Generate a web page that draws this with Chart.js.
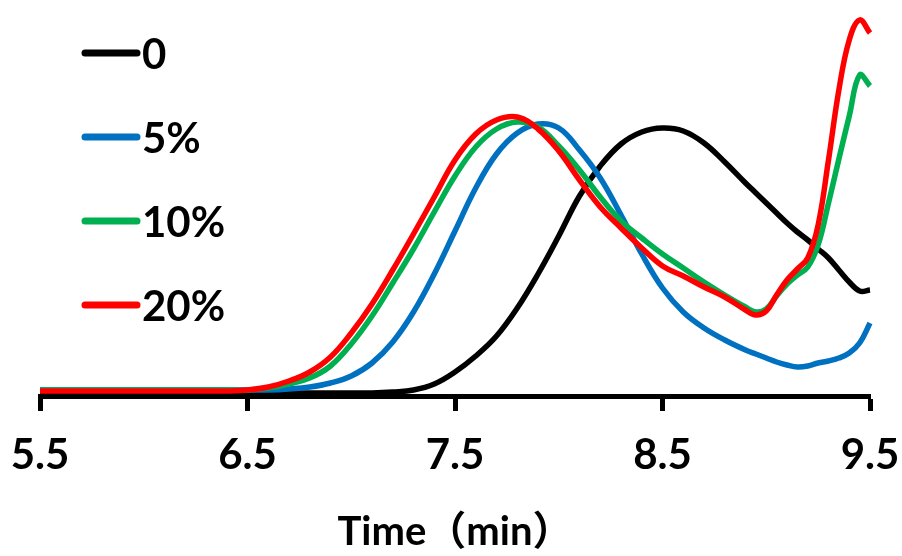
<!DOCTYPE html>
<html>
<head>
<meta charset="utf-8">
<script src="https://cdn.jsdelivr.net/npm/chart.js@4"></script>
<style>
  html, body { margin: 0; padding: 0; background: #fff; }
  #wrap { width: 902px; height: 556px; }
</style>
</head>
<body>
<div id="wrap"><canvas id="c" width="902" height="556"></canvas></div>
<script>
// Time axis (min)
const times = [5.5, 5.6, 5.7, 5.8, 5.9, 6.0, 6.1, 6.2, 6.3, 6.4,
  6.5, 6.6, 6.7, 6.8, 6.9, 7.0, 7.1, 7.2, 7.3, 7.4,
  7.5, 7.6, 7.7, 7.8, 7.9, 8.0, 8.1, 8.2, 8.3, 8.4,
  8.5, 8.6, 8.7, 8.8, 8.9, 8.95, 9.0, 9.05, 9.1, 9.15,
  9.2, 9.25, 9.3, 9.35, 9.4, 9.45, 9.5];

const seriesLabels = ['0', '5%', '10%', '20%'];
const seriesColors = ['#000000', '#0070C0', '#00B050', '#FF0000'];

const s0 = [3, 3, 3, 3, 3, 3, 3, 3, 3, 3,
  3, 3, 3, 3, 3, 3, 3, 4, 6, 12,
  24, 40, 60, 88, 122, 160, 200, 230, 252, 264,
  268, 265, 253, 234, 213, 203, 193, 183, 173, 164,
  156, 147, 138, 126, 114, 105, 106];

const s5 = [6, 6, 6, 6, 6, 6, 6, 6, 6, 6,
  6, 6, 7, 9, 13, 20, 33, 54, 84, 122,
  165, 208, 242, 263, 272, 268, 246, 218, 181, 142,
  108, 84, 68, 56, 46, 42, 38, 34, 31, 29,
  30, 33, 35, 38, 43, 53, 73];

const s10 = [6, 6, 6, 6, 6, 6, 6, 6, 6, 6,
  6, 8, 12, 18, 30, 52, 80, 113, 147, 184,
  220, 249, 267, 274, 269, 250, 226, 199, 175, 158,
  142, 128, 114, 101, 89, 84, 87, 100, 112, 121,
  129, 151, 193, 237, 280, 321, 310];

const s20 = [5, 5, 5, 5, 5, 5, 5, 5, 5, 5,
  6, 9, 15, 24, 39, 63, 92, 126, 162, 199,
  236, 262, 276, 279, 267, 245, 216, 189, 168, 148,
  130, 120, 109, 99, 86, 81, 85, 101, 116, 127,
  138, 171, 236, 306, 356, 376, 363];

const tickValues = [5.5, 6.5, 7.5, 8.5, 9.5];
const axisTitle = 'Time（min）';

const allSeries = [s0, s5, s10, s20];
const drawOrder = [3, 2, 1, 0];

const datasets = allSeries.map((vals, i) => ({
  label: seriesLabels[i],
  data: vals.map((v, j) => ({ x: times[j], y: v })),
  borderColor: seriesColors[i],
  backgroundColor: seriesColors[i],
  borderWidth: 5.5,
  pointRadius: 0,
  tension: 0.4,
  fill: false,
  clip: false,
  order: drawOrder[i]
}));

const FONT = "Lato, 'Noto Sans CJK SC', sans-serif";

const legendPlugin = {
  id: 'insideLegend',
  afterDraw(chart, args, opts) {
    const ctx = chart.ctx;
    ctx.save();
    chart.data.datasets.forEach((ds, i) => {
      const y = opts.y0 + i * opts.dy;
      ctx.strokeStyle = ds.borderColor;
      ctx.lineWidth = 7;
      ctx.lineCap = 'round';
      ctx.beginPath();
      ctx.moveTo(opts.x0, y);
      ctx.lineTo(opts.x1, y);
      ctx.stroke();
      ctx.fillStyle = '#000';
      ctx.font = 'bold 42px ' + FONT;
      ctx.textBaseline = 'middle';
      ctx.textAlign = 'left';
      ctx.fillText(ds.label, opts.tx, y + 2);
    });
    ctx.restore();
  }
};

new Chart(document.getElementById('c'), {
  type: 'line',
  data: { datasets },
  plugins: [legendPlugin],
  options: {
    responsive: false,
    animation: false,
    layout: { padding: { left: 40, right: 32, top: 10, bottom: 0 } },
    plugins: {
      legend: { display: false },
      tooltip: { enabled: false },
      insideLegend: { x0: 85, x1: 137, tx: 142, y0: 53, dy: 84 }
    },
    scales: {
      x: {
        type: 'linear',
        min: 5.5,
        max: 9.5,
        afterBuildTicks(scale) { scale.ticks = tickValues.map(v => ({ value: v })); },
        afterFit(scale) {
          scale.height = 160;
          scale.paddingLeft = 0;
          scale.paddingRight = 0;
        },
        border: { display: true, color: '#000', width: 5 },
        grid: { display: true, drawOnChartArea: false, drawTicks: true, tickLength: 15, tickWidth: 5, tickColor: '#000', color: '#000' },
        ticks: {
          color: '#000',
          font: { family: FONT, size: 42, weight: 'bold' },
          padding: 19,
          maxRotation: 0,
          autoSkip: false,
          callback: (v) => v.toFixed(1)
        },
        title: {
          display: true,
          text: axisTitle,
          color: '#000',
          font: { family: FONT, size: 40, weight: 'bold' },
          padding: { top: 0, bottom: 0 }
        }
      },
      y: {
        display: false,
        min: 0,
        max: 386
      }
    }
  }
});
</script>
</body>
</html>
